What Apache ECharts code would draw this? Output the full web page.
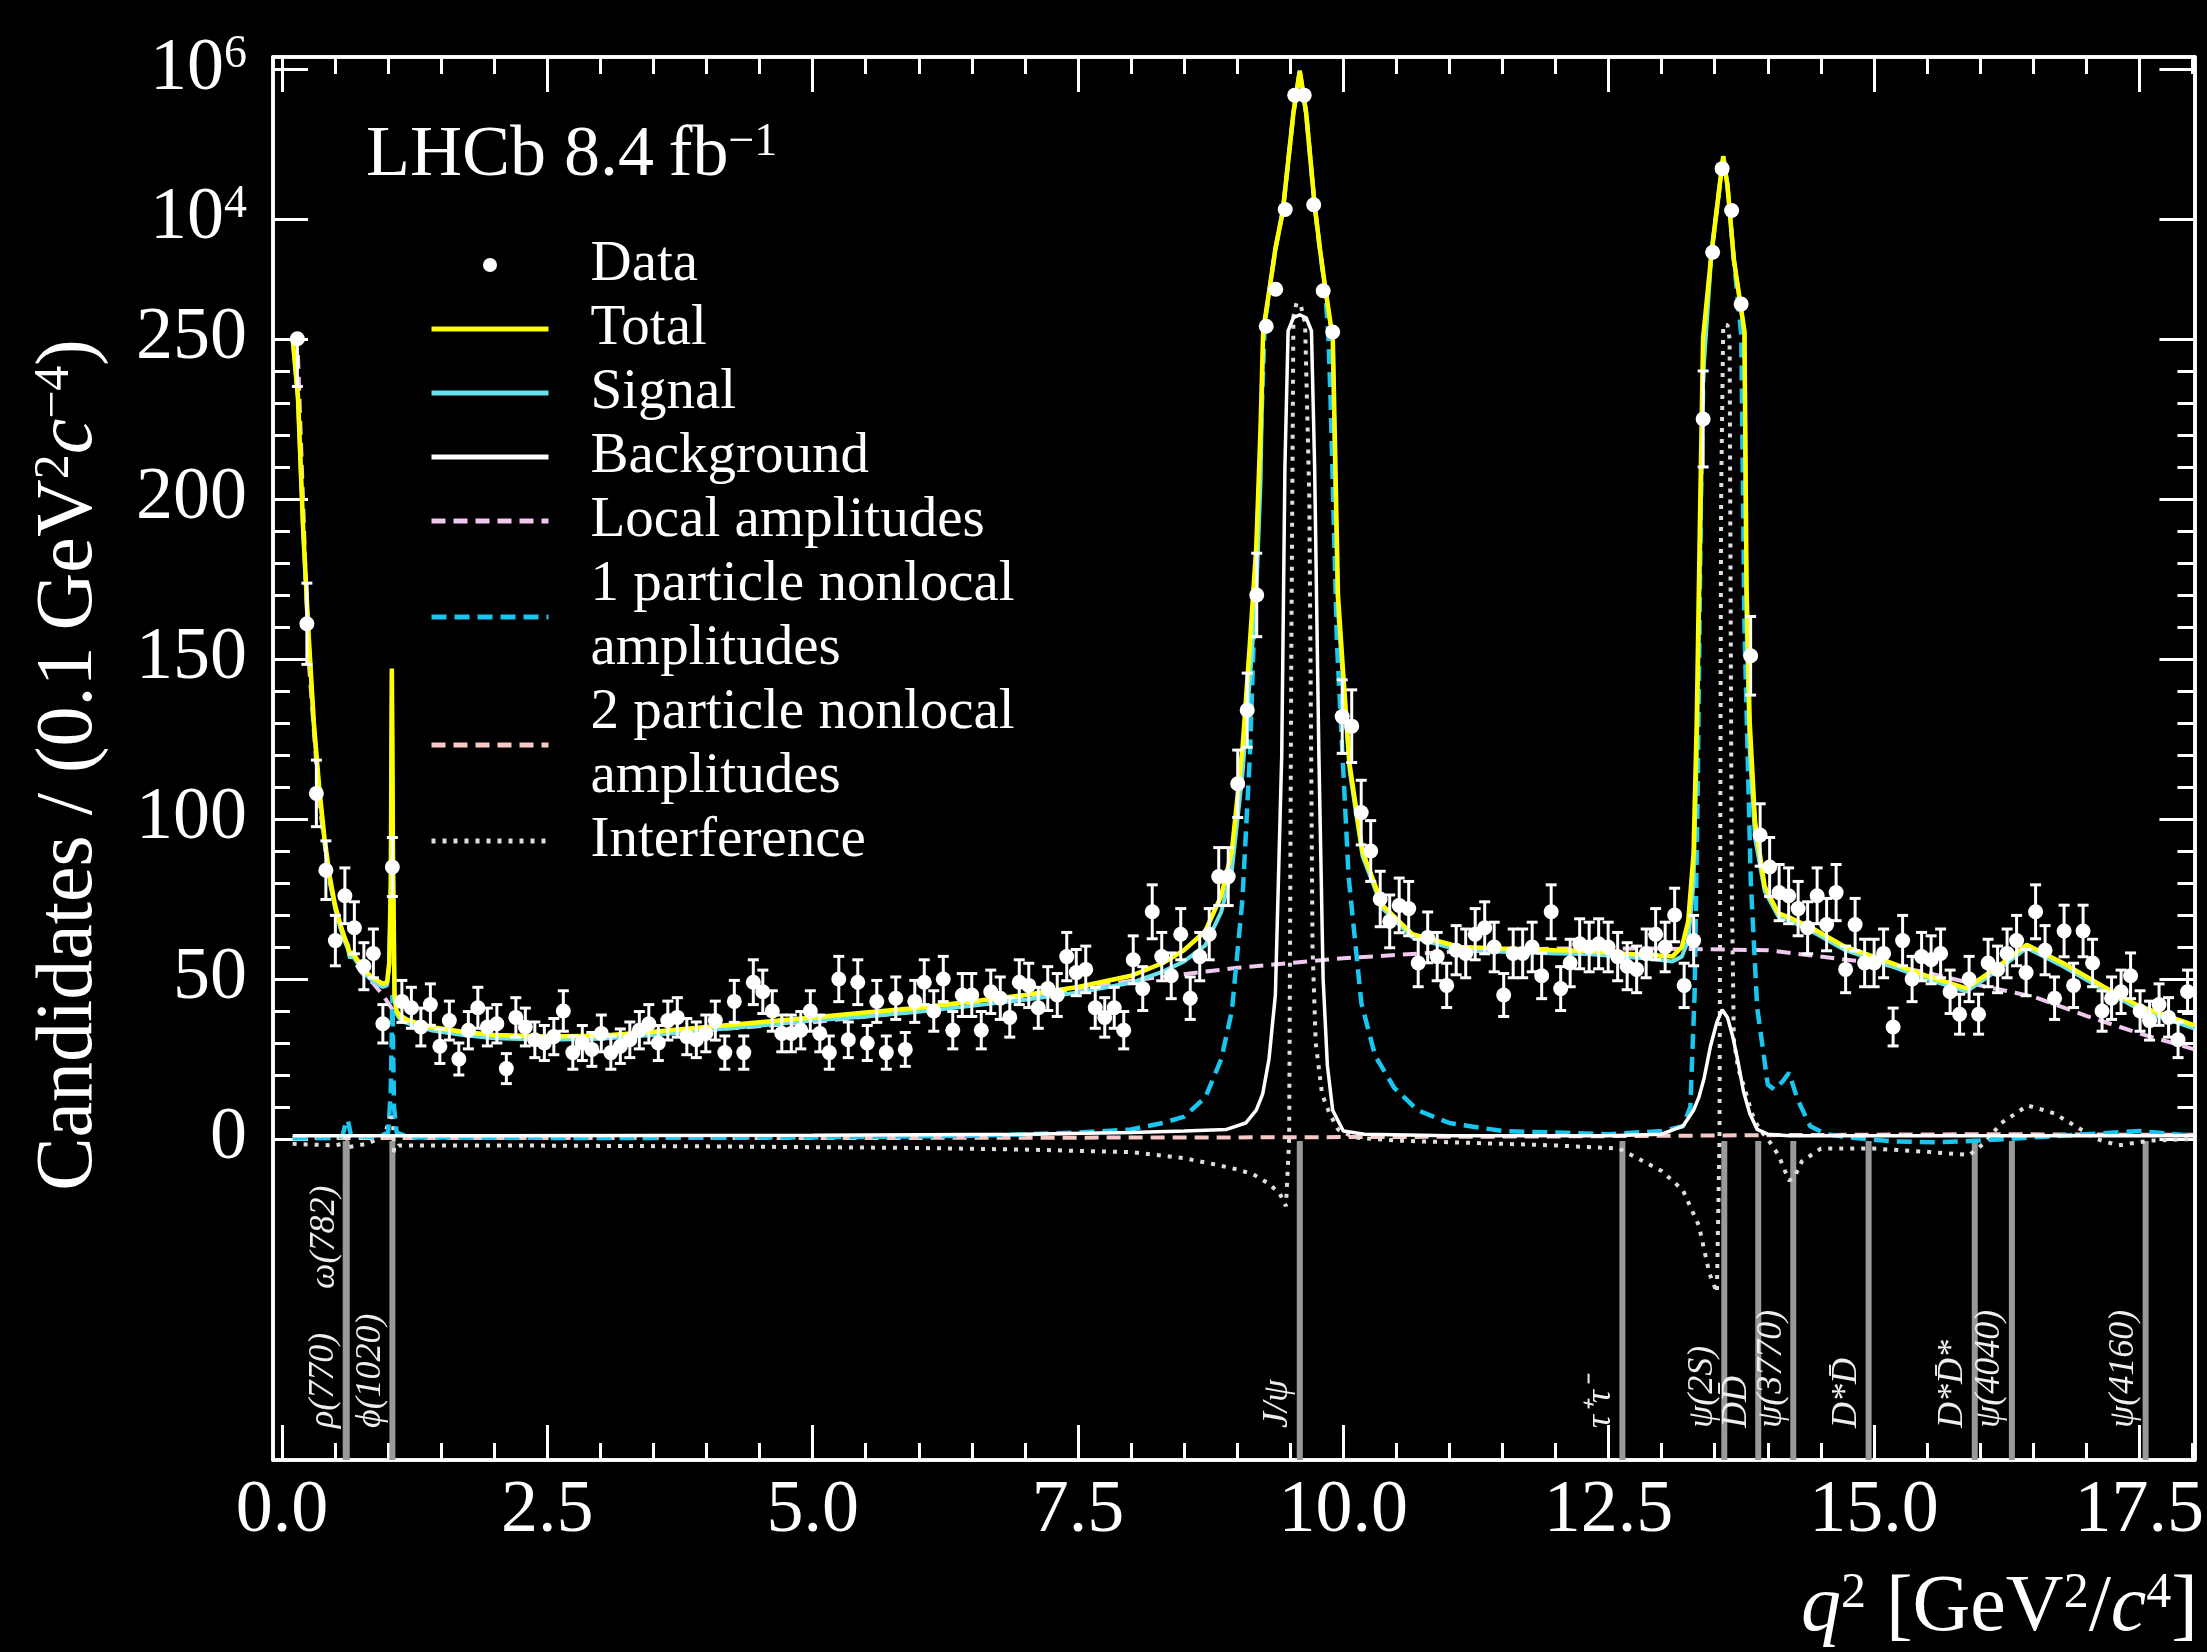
<!DOCTYPE html>
<html>
<head>
<meta charset="utf-8">
<script src="https://cdn.jsdelivr.net/npm/echarts@6/dist/echarts.min.js"></script>
<style>
html,body{margin:0;padding:0;background:#000;}
#chart{width:2207px;height:1652px;}
</style>
</head>
<body>
<div id="chart"></div>
<script>
// ---------------- DATA ----------------
// Binning of the data histogram (q^2 in GeV^2/c^4)
const binLo = 0.1, binHi = 18.0, nBins = 200;

// Candidates per bin
const counts = [
  251, 161, 108, 84, 62, 76, 66, 54, 58, 36,
  85, 43, 41, 35, 42, 29, 37, 25, 34, 41,
  35, 36, 22, 38, 35, 31, 30, 32, 40, 27,
  30, 28, 33, 27, 29, 31, 34, 36, 30, 37,
  38, 32, 31, 33, 37, 27, 43, 27, 49, 46,
  40, 33, 33, 34, 40, 33, 27, 50, 31, 49,
  30, 43, 27, 44, 28, 43, 49, 40, 50, 34,
  45, 45, 34, 46, 44, 38, 49, 48, 41, 47,
  45, 57, 52, 53, 41, 38, 41, 34, 56, 47,
  71, 57, 51, 64, 44, 57, 64, 82, 82, 111,
  134, 170, 370, 1150, 13400, 450000, 450000, 15500, 1100, 310,
  132, 129, 102, 90, 75, 68, 73, 72, 55, 63,
  57, 48, 59, 58, 64, 66, 60, 45, 58, 58,
  60, 51, 71, 47, 55, 61, 60, 61, 60, 57,
  54, 53, 58, 64, 60, 70, 48, 62, 225, 3600,
  47000, 13000, 730, 151, 95, 85, 77, 76, 72, 66,
  76, 67, 77, 53, 67, 55, 55, 58, 35, 62,
  50, 57, 56, 58, 46, 39, 50, 39, 55, 53,
  58, 62, 52, 71, 59, 44, 65, 48, 65, 55,
  40, 44, 46, 51, 40, 37, 42, 38, 31, 46
];

// Model curves: [q^2, candidates]
const totalCurve = [
  [0.1,256],[0.15,232],[0.2,190],[0.25,158],[0.3,130],[0.35,110],[0.4,94],[0.45,82],[0.5,73],[0.55,67],
  [0.6,62],[0.62,60.5],[0.64,57.5],[0.66,58.5],[0.7,56.5],[0.75,54],[0.8,52],[0.85,50.5],[0.9,49.5],[0.95,48.5],
  [0.99,49],[1.01,55],[1.025,80],[1.035,147],[1.045,90],[1.06,45],[1.08,40],[1.12,38],[1.2,37],[1.4,35],
  [1.7,33.5],[2.0,32.5],[2.5,32],[3.0,32.3],[3.5,33.5],[4.0,35],[4.5,36.5],[5.0,38],[5.5,39.5],[6.0,41],
  [6.5,43],[7.0,45],[7.5,47.5],[8.0,51],[8.3,55],[8.5,59],[8.7,65],[8.85,76],[8.95,90],[9.05,122],
  [9.12,155],[9.18,185],[9.22,222],[9.245,320],[9.3,1060],[9.36,4000],[9.43,12800],[9.53,260000],[9.59,950000],[9.65,260000],
  [9.73,15500],[9.78,4000],[9.83,1200],[9.88,400],[9.9,300],[9.92,220],[9.95,170],[10.0,145],[10.06,117],[10.18,90],
  [10.37,73],[10.65,64],[11.1,60],[11.5,59.5],[12.0,59],[12.3,58.8],[12.6,58],[12.9,57.5],[13.1,57],[13.19,60],
  [13.25,68],[13.3,89],[13.33,130],[13.36,192],[13.39,255],[13.47,3600],[13.58,69000],[13.62,28000],[13.68,2900],[13.78,315],
  [13.8,172],[13.83,130],[13.88,99],[13.97,79],[14.1,70.5],[14.22,69],[14.41,66],[14.73,60],[15.04,56.5],[15.47,51.3],
  [15.87,47.1],[16.15,53.4],[16.44,60.7],[16.78,55],[17.16,47.7],[17.5,41.5],[18.02,35.5]
];

const signalCurve = [
  [0.1,255],[0.15,231],[0.2,189],[0.25,157],[0.3,129],[0.35,109],[0.4,93],[0.45,81],[0.5,72],[0.55,66],
  [0.6,61],[0.62,59.5],[0.64,56.5],[0.66,57.5],[0.7,55.5],[0.75,53],[0.8,51],[0.85,49.5],[0.9,48.5],[0.95,47.5],
  [0.99,48],[1.01,54],[1.025,79],[1.035,146],[1.045,89],[1.06,44],[1.08,39],[1.12,37],[1.2,36],[1.4,34],
  [1.7,32.5],[2.0,31.5],[2.5,31],[3.0,31.3],[3.5,32.5],[4.0,34],[4.5,35.5],[5.0,37],[5.5,38.3],[6.0,39.8],
  [6.5,41.6],[7.0,43.5],[7.5,45.8],[8.0,48.8],[8.3,52.3],[8.5,55.5],[8.7,60.5],[8.85,71],[8.95,84],[9.05,114],
  [9.12,144],[9.18,170],[9.22,205],[9.245,295],[9.3,1020],[9.36,3900],[9.43,12500],[9.53,259000],[9.59,949000],[9.65,259000],
  [9.73,15200],[9.78,3880],[9.83,1150],[9.88,385],[9.9,291],[9.92,213],[9.95,165],[10.0,142],[10.06,115],[10.18,88.5],
  [10.37,72],[10.65,63],[11.1,59],[11.5,58.5],[12.0,58],[12.3,57.8],[12.6,57],[12.9,56.3],[13.1,55.5],[13.19,57],
  [13.25,62],[13.3,80],[13.33,119],[13.36,178],[13.39,238],[13.47,3570],[13.58,68960],[13.62,27960],[13.68,2870],[13.78,300],
  [13.8,160],[13.83,121],[13.88,94],[13.97,77.5],[14.1,69.5],[14.22,68],[14.41,65],[14.73,59],[15.04,55.5],[15.47,50.3],
  [15.87,46.1],[16.15,52.4],[16.44,59.7],[16.78,54],[17.16,46.7],[17.5,40.5],[18.02,34.5]
];

const backgroundCurve = [
  [0.1,1],[2,1],[5,1.2],[7,1.5],[8,2],[8.5,2.5],[8.9,3],[9.08,5],[9.18,9],[9.24,14],
  [9.3,25],[9.36,45],[9.42,120],[9.45,210],[9.48,320],[9.53,480],[9.59,525],[9.65,480],[9.7,320],[9.73,210],
  [9.77,120],[9.81,50],[9.85,23],[9.9,9],[10.0,2.5],[10.2,1.5],[11,1],[12.5,1],[13.0,1.5],[13.2,4],
  [13.3,9],[13.35,13],[13.4,19],[13.46,29],[13.52,36.5],[13.57,40.4],[13.62,38],[13.67,32],[13.72,24],[13.77,15],
  [13.83,8],[13.9,3],[14.0,1.5],[14.2,1],[18.02,1]
];

const localCurve = [
  [0.15,245],[0.25,150],[0.35,105],[0.45,80],[0.55,66],[0.65,57],[0.75,52],[0.85,49],[0.95,45],[1.05,40],
  [1.2,37],[1.5,34],[2,32],[3,31.5],[4,34],[5,36.5],[6,40],[7,44],[8,49.5],[9,53.5],
  [10,56.5],[11,58.5],[12,59.5],[13,59.5],[14,59],[15,55],[15.5,52],[16,48],[16.5,44.5],[17,38.5],
  [17.5,33],[18.02,28]
];

const oneParticleCurve = [
  [0.1,0.2],[0.5,0.3],[0.57,1],[0.6,5],[0.62,6],[0.65,1],[0.9,0.5],[1.0,2],[1.025,15],[1.04,45],
  [1.055,10],[1.08,2],[1.2,0.5],[3,0.3],[5,0.5],[6.5,1],[7.5,2],[8.0,3],[8.3,5],[8.5,7],
  [8.7,13],[8.85,25],[8.95,40],[9.05,75],[9.12,120],[9.2,200],[9.235,231],[9.26,400],[9.3,1000],[9.36,3900],
  [9.43,12500],[9.53,259000],[9.59,948000],[9.65,258000],[9.73,15000],[9.78,3800],[9.83,1100],[9.86,260],[9.88,231],[9.94,155],
  [10.05,82],[10.17,42.5],[10.3,26],[10.48,16],[10.7,9],[11.0,5],[11.5,2.5],[12.5,1.5],[13.0,2.5],[13.2,4],
  [13.27,10],[13.31,45],[13.34,110],[13.37,200],[13.4,260],[13.47,3500],[13.58,68900],[13.62,27900],[13.68,2850],[13.75,280],
  [13.78,160],[13.84,80],[13.9,41],[14.0,17],[14.06,15.5],[14.14,18],[14.2,20.7],[14.28,12.4],[14.4,4],[14.55,1.5],
  [14.8,0.4],[15.2,-0.8],[15.6,-1],[16.0,-0.5],[16.5,0.5],[17.0,1.5],[17.5,2.5],[18.02,1]
];

const twoParticleCurve = [
  [0.1,0.3],[5,0.3],[9,0.5],[12,0.8],[14,1.2],[16,1.5],[18.02,1.3]
];

const interferenceCurve = [
  [0.1,-1.5],[0.5,-2],[0.57,-1.5],[0.6,2],[0.63,-2.5],[0.8,-1.5],[0.97,1],[1.02,8],[1.04,12],[1.055,-4],
  [1.1,-2],[2,-2],[4,-2.3],[6,-2.8],[7,-3.3],[8,-4.1],[8.5,-6],[8.8,-8],[9.0,-9.5],[9.15,-11],
  [9.3,-14],[9.4,-17],[9.46,-21],[9.49,0],[9.51,150],[9.53,500],[9.56,760],[9.6,700],[9.64,400],[9.68,200],
  [9.71,60],[9.74,30],[9.8,14],[9.87,8],[9.95,3],[10.1,0.5],[10.5,-0.5],[11,-1],[12,-2],[12.6,-3],
  [13.0,-10],[13.2,-16],[13.35,-27],[13.45,-42],[13.52,-48],[13.545,0],[13.56,200],[13.58,385],[13.62,385],[13.64,250],
  [13.66,80],[13.68,31],[13.72,22],[13.78,16],[13.85,8],[13.92,3],[14.0,0],[14.1,-5],[14.2,-13],[14.25,-12],
  [14.32,-7],[14.5,-3],[15,-3],[15.5,-4],[15.9,-5],[16.05,-1],[16.2,5],[16.45,10.5],[16.7,8],[16.9,4],
  [17.1,0],[17.3,-2],[17.6,-0.5],[18.02,0]
];

// Resonances / thresholds (q^2 positions) and their labels
const resonanceQ2 = [0.60, 0.61, 1.04, 9.59, 12.63, 13.59, 13.91, 14.24, 14.95, 15.95, 16.30, 17.56];
const resonanceNames = ['\u03c1(770)', '\u03c9(782)', '\u03d5(1020)', 'J/\u03c8', '\u03c4\u207a\u03c4\u207b', '\u03c8(2S)',
  'DD\u0304', '\u03c8(3770)', 'D*D\u0304', 'D*D\u0304*', '\u03c8(4040)', '\u03c8(4160)'];

// Axis tick values
const xMajorTicks = [0, 2.5, 5, 7.5, 10, 12.5, 15, 17.5];
const yLinearTicks = [0, 50, 100, 150, 200, 250];
const yLogTicks = [1e4, 1e6];

// ---------------- SCALE (linear below 250, logarithmic above) ----------------
const LIN_MAX = 250, DECADE = 23.4;
function disp(v) { return v <= LIN_MAX ? v : LIN_MAX + DECADE * Math.log10(v / LIN_MAX); }

const X_MIN = -0.085, X_MAX = 18.02, Y_MIN = -100.3, Y_MAX = 338.1;
const FONT = "'Liberation Serif', 'Times New Roman', serif";

const binW = (binHi - binLo) / nBins;
const binCenters = counts.map((_, k) => binLo + binW * (k + 0.5));
const dataPts = counts.map((v, k) => [binCenters[k], disp(v)]);
const errPts = counts.map((v, k) => [binCenters[k], disp(v - Math.sqrt(v)), disp(v + Math.sqrt(v))]);
const toDisp = c => c.map(p => [p[0], disp(p[1])]);

const xMinorTicks = [];
for (let t = 0.5; t < X_MAX; t += 0.5) { if (Math.abs(t / 2.5 - Math.round(t / 2.5)) > 1e-6) xMinorTicks.push(+t.toFixed(2)); }
const yMajorTicks = yLinearTicks.concat(yLogTicks.map(disp));
const yMinorTicks = [];
for (let t = 10; t < LIN_MAX; t += 10) { if (t % 50 !== 0) yMinorTicks.push(t); }

const sup = {fontFamily: FONT, fontSize: 46, color: '#fff', verticalAlign: 'top', fontWeight: 'normal'};

function xAxisDef(pos, ticks, len, withLabels) {
  return {
    type: 'value', position: pos, min: X_MIN, max: X_MAX,
    axisLine: {show: true, onZero: false, lineStyle: {color: '#fff', width: 3.5}},
    axisTick: {show: true, inside: true, length: len, customValues: ticks, lineStyle: {color: '#fff', width: 3}},
    axisLabel: withLabels ? {show: true, customValues: ticks, margin: 15, color: '#fff', fontFamily: FONT, fontSize: 74,
      formatter: v => v.toFixed(1)} : {show: false},
    splitLine: {show: false}
  };
}
function yAxisDef(pos, ticks, len, withLabels) {
  return {
    type: 'value', position: pos, min: Y_MIN, max: Y_MAX,
    axisLine: {show: true, onZero: false, lineStyle: {color: '#fff', width: 3.5}},
    axisTick: {show: true, inside: true, length: len, customValues: ticks, lineStyle: {color: '#fff', width: 3}},
    axisLabel: withLabels ? {show: true, customValues: ticks, margin: 26, color: '#fff', fontFamily: FONT, fontSize: 74,
      rich: {s: sup},
      formatter: v => {
        if (Math.abs(v - disp(1e4)) < 1e-6) return '10{s|4}';
        if (Math.abs(v - disp(1e6)) < 1e-6) return '10{s|6}';
        return String(Math.round(v));
      }} : {show: false},
    splitLine: {show: false}
  };
}

function lineSeries(name, curve, color, width, type, z) {
  return {
    type: 'line', name: name, data: toDisp(curve), symbol: 'none', showSymbol: false, silent: true, z: z,
    lineStyle: {color: color, width: width, type: type}, itemStyle: {color: color}
  };
}

const chart = echarts.init(document.getElementById('chart'));
chart.setOption({
  backgroundColor: '#000',
  animation: false,
  title: {
    text: '{a|LHCb 8.4\u2009fb}{s|\u22121}', left: 366, top: 120, padding: 0,
    textStyle: {fontWeight: 'normal',
      rich: {a: {fontFamily: FONT, fontSize: 72, color: '#fff', fontWeight: 'normal'},
             s: {fontFamily: FONT, fontSize: 46, color: '#fff', verticalAlign: 'top', fontWeight: 'normal'}}}
  },
  legend: {
    orient: 'vertical', left: 429, top: 233, padding: 0, itemGap: 0, itemWidth: 117, itemHeight: 14,
    selectedMode: false,
    itemStyle: {opacity: 0},
    lineStyle: {width: 5},
    textStyle: {color: '#fff', fontFamily: FONT, fontSize: 57, lineHeight: 64, padding: [0, 0, 0, 37]},
    data: [{name: 'Data', itemStyle: {opacity: 1, color: '#ffffff'}}, 'Total', 'Signal', 'Background', 'Local amplitudes',
      '1 particle nonlocal\namplitudes', '2 particle nonlocal\namplitudes', 'Interference']
  },
  grid: {left: 273, right: 9, top: 57, bottom: 192, show: false},
  xAxis: [
    xAxisDef('bottom', xMajorTicks, 35, true),
    xAxisDef('bottom', xMinorTicks, 17, false),
    xAxisDef('top', xMajorTicks, 35, false),
    xAxisDef('top', xMinorTicks, 17, false)
  ],
  yAxis: [
    yAxisDef('left', yMajorTicks, 35, true),
    yAxisDef('left', yMinorTicks, 17, false),
    yAxisDef('right', yMajorTicks, 35, false),
    yAxisDef('right', yMinorTicks, 17, false)
  ],
  graphic: [
    {type: 'text', x: 70, y: 339, rotation: Math.PI / 2, z: 10,
      style: {text: 'Candidates / (0.1\u2009GeV{s|2}{i|c}{s|\u22124})', align: 'right', verticalAlign: 'middle',
        fontFamily: FONT, fontSize: 80, fill: '#fff',
        rich: {s: {fontFamily: FONT, fontSize: 50, fill: '#fff', verticalAlign: 'top'},
               i: {fontFamily: FONT, fontSize: 80, fontStyle: 'italic', fill: '#fff'}}}},
    {type: 'text', x: 2198, y: 1609, z: 10,
      style: {text: '{i|q}{s|2} [GeV{s|2}/{i|c}{s|4}]', align: 'right', verticalAlign: 'middle',
        fontFamily: FONT, fontSize: 80, fill: '#fff',
        rich: {s: {fontFamily: FONT, fontSize: 50, fill: '#fff', verticalAlign: 'top'},
               i: {fontFamily: FONT, fontSize: 80, fontStyle: 'italic', fill: '#fff'}}}}
  ],
  series: [
    {
      type: 'custom', name: 'resonances', silent: true, z: 1,
      data: resonanceQ2.map((q, i) => [q, i]),
      renderItem: (params, api) => {
        const q = api.value(0), idx = api.value(1);
        const top = api.coord([q, 0]);
        const bot = api.coord([q, Y_MIN]);
        const lift = idx === 1 ? 139 : 0;
        return {type: 'group', children: [
          {type: 'line', shape: {x1: top[0], y1: top[1] + 2, x2: bot[0], y2: bot[1]},
            style: {stroke: '#999999', lineWidth: 6}},
          {type: 'text', x: top[0] - 4, y: bot[1] - 32 - lift, rotation: Math.PI / 2,
            style: {text: resonanceNames[idx], align: 'left', verticalAlign: 'bottom', fill: '#eeeeee',
              fontFamily: FONT, fontStyle: 'italic', fontSize: 36}}
        ]};
      }
    },
    lineSeries('2 particle nonlocal\namplitudes', twoParticleCurve, '#f7c9c6', 4, [14, 8], 2),
    lineSeries('Interference', interferenceCurve, '#dddddd', 4, [4, 7], 2),
    lineSeries('Local amplitudes', localCurve, '#f0c8f0', 4, [14, 8], 3),
    lineSeries('1 particle nonlocal\namplitudes', oneParticleCurve, '#18c6f0', 4.5, [15, 8], 3),
    lineSeries('Background', backgroundCurve, '#ffffff', 3.5, 'solid', 4),
    lineSeries('Signal', signalCurve, '#66e4ee', 4, 'solid', 5),
    lineSeries('Total', totalCurve, '#ffff00', 4.5, 'solid', 6),
    {
      type: 'custom', name: 'errors', silent: true, z: 7,
      data: errPts,
      renderItem: (params, api) => {
        const x = api.value(0);
        const lo = api.coord([x, api.value(1)]);
        const hi = api.coord([x, api.value(2)]);
        const cw = 5.5;
        const st = {stroke: '#ffffff', lineWidth: 3};
        return {type: 'group', children: [
          {type: 'line', shape: {x1: lo[0], y1: lo[1], x2: hi[0], y2: hi[1]}, style: st},
          {type: 'line', shape: {x1: lo[0] - cw, y1: lo[1], x2: lo[0] + cw, y2: lo[1]}, style: st},
          {type: 'line', shape: {x1: hi[0] - cw, y1: hi[1], x2: hi[0] + cw, y2: hi[1]}, style: st}
        ]};
      }
    },
    {
      type: 'scatter', name: 'Data', data: dataPts, symbol: 'circle', symbolSize: 15, z: 8, silent: true,
      itemStyle: {color: '#ffffff', opacity: 1}
    }
  ]
});
</script>
</body>
</html>
